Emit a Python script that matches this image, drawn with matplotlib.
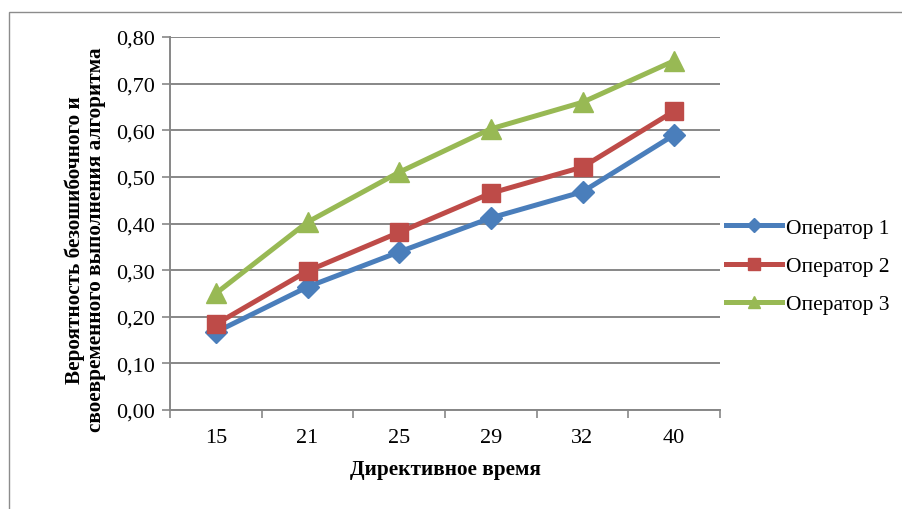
import matplotlib.pyplot as plt
from matplotlib.lines import Line2D
from matplotlib.patches import Rectangle
from matplotlib.ticker import FuncFormatter

plt.rcParams['font.family'] = ['Liberation Serif', 'DejaVu Serif']

# данные
times = ['15', '21', '25', '29', '32', '40']
op1 = [0.167, 0.264, 0.339, 0.412, 0.468, 0.590]
op2 = [0.184, 0.298, 0.381, 0.465, 0.521, 0.641]
op3 = [0.250, 0.403, 0.510, 0.603, 0.660, 0.749]
names = ['Оператор 1', 'Оператор 2', 'Оператор 3']
colors = ['#4A7EBB', '#BE4B48', '#98B954']
markers = ['D', 's', '^']
msizes = [11, 12.5, 14]

fig = plt.figure(figsize=(9.02, 5.1), dpi=100)
fig.patch.set_facecolor('white')

# рамка вокруг диаграммы
fig.patches.append(Rectangle((8.5 / 902, -0.1), 1.2, 1.1 - 12.5 / 510,
                             transform=fig.transFigure, fill=False,
                             edgecolor='#8c8c8c', linewidth=1.0))

ax = fig.add_axes([170 / 902, 99 / 510, 550 / 902, 373 / 510])
x = list(range(len(times)))

for vals, c, m, ms in zip([op1, op2, op3], colors, markers, msizes):
    ax.plot(x, vals, color=c, linewidth=3.6, marker=m, markersize=ms,
            markerfacecolor=c, markeredgecolor=c, zorder=3)

ax.set_xlim(-0.5, len(times) - 0.5)
ax.set_ylim(0, 0.8)
ax.set_yticks([i / 10 for i in range(9)])
ax.yaxis.set_major_formatter(FuncFormatter(lambda v, p: f'{v:.2f}'.replace('.', ',')))
ax.grid(axis='y', color='#878787', linewidth=1.4)
ax.set_axisbelow(True)

# деления между категориями, подписи по центру
ax.set_xticks([i - 0.5 for i in range(len(times) + 1)])
ax.set_xticklabels([])
ax.set_xticks(x, minor=True)
ax.set_xticklabels(times, minor=True)
ax.tick_params(axis='x', which='major', length=6, width=1.2, color='#878787', direction='out')
ax.tick_params(axis='x', which='minor', length=0, pad=13, labelsize=16)
ax.tick_params(axis='y', length=6, width=1.2, color='#878787', direction='out',
               pad=5, labelsize=16)

for s in ['top', 'right']:
    ax.spines[s].set_visible(False)
for s in ['left', 'bottom']:
    ax.spines[s].set_color('#878787')
    ax.spines[s].set_linewidth(1.4)

fig.text(445 / 902, 1 - 470 / 510, 'Директивное время', ha='center', va='center',
         fontsize=15.3, fontweight='bold')
fig.text(85 / 902, 1 - 240 / 510,
         'Вероятность безошибочного и\nсвоевременного выполнения алгоритма',
         rotation=90, ha='center', va='center', fontsize=15.3, fontweight='bold',
         multialignment='center', linespacing=1.05)

handles = [Line2D([0], [0], color=c, linewidth=3.6, marker=m, markersize=ms * 0.65,
                  markerfacecolor=c, markeredgecolor=c)
           for c, m, ms in zip(colors, markers, msizes)]
fig.legend(handles, names, loc='center left', bbox_to_anchor=(707 / 902, 1 - 267 / 510),
           frameon=False, fontsize=15.5, handlelength=2.6, handletextpad=0.15,
           labelspacing=0.85)

fig.savefig('out.png', dpi=100, facecolor=fig.get_facecolor())
